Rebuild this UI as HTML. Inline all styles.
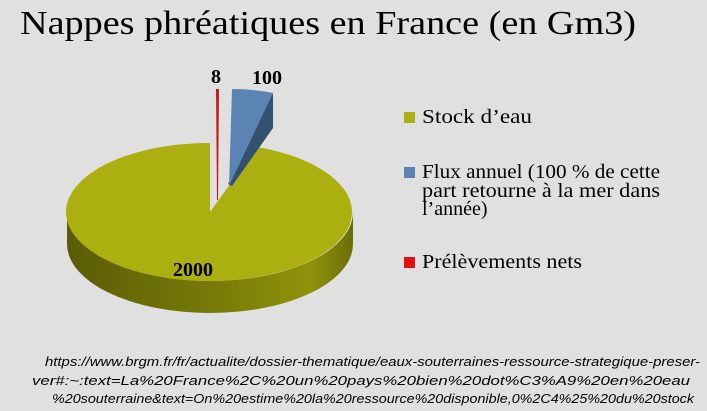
<!DOCTYPE html>
<html><head><meta charset="utf-8"><style>
body{margin:0;background:#e0e0e0;}
.w{position:relative;width:707px;height:411px;overflow:hidden;background:#e0e0e0;}
</style></head><body><div class="w">
<svg width="707" height="411" style="position:absolute;left:0;top:0">
<defs>
<linearGradient id="s" x1="0" x2="1" y1="0" y2="0">
<stop offset="0" stop-color="#5a5c06"/><stop offset="0.55" stop-color="#7a7d08"/><stop offset="0.85" stop-color="#8f930a"/><stop offset="1" stop-color="#6b6e07"/></linearGradient>
</defs>
<text x="20" y="34" font-family="Liberation Serif,serif" font-size="34" textLength="616" lengthAdjust="spacingAndGlyphs">Nappes phréatiques en France (en Gm3)</text>
<path d="M353,212 A143 69 0 0 1 67,212 L67,244 A143 69 0 0 0 353,244 Z" fill="url(#s)"/>
<path d="M210,212 L257,147 A143 69 0 1 1 210,143 Z" fill="#abaf0f"/>
<path d="M273,93 L273,128 L232,186 L228,184 Z" fill="#34506f"/>
<path d="M229,186 L232,89 Q254,89 273,93 Z" fill="#5b84b4"/>
<path d="M216,89 L219,89 L218,200 L217,200 Z" fill="#d01515"/>
<g font-family="Liberation Serif,serif" font-weight="bold" font-size="20" fill="#000">
<text x="211" y="83">8</text>
<text x="252" y="84">100</text>
<text x="173" y="276">2000</text>
</g>
<rect x="404" y="112" width="11" height="11" fill="#abaf0f"/>
<rect x="404" y="167" width="11" height="11" fill="#5b84b4"/>
<rect x="404" y="257" width="11" height="11" fill="#e01010"/>
<g font-family="Liberation Serif,serif" font-size="20" fill="#000">
<text x="422" y="123" textLength="110" lengthAdjust="spacingAndGlyphs">Stock d’eau</text>
<text x="422" y="178" textLength="238" lengthAdjust="spacingAndGlyphs">Flux annuel (100 % de cette</text>
<text x="422" y="197" textLength="238" lengthAdjust="spacingAndGlyphs">part retourne à la mer dans</text>
<text x="422" y="215">l’année)</text>
<text x="422" y="268" textLength="160" lengthAdjust="spacingAndGlyphs">Prélèvements nets</text>
</g>
<g font-family="Liberation Sans,sans-serif" font-style="italic" font-size="13" fill="#000">
<text x="45" y="366" textLength="655" lengthAdjust="spacingAndGlyphs">https://www.brgm.fr/fr/actualite/dossier-thematique/eaux-souterraines-ressource-strategique-preser-</text>
<text x="32" y="385" textLength="658" lengthAdjust="spacingAndGlyphs">ver#:~:text=La%20France%2C%20un%20pays%20bien%20dot%C3%A9%20en%20eau</text>
<text x="52" y="403" textLength="642" lengthAdjust="spacingAndGlyphs">%20souterraine&amp;text=On%20estime%20la%20ressource%20disponible,0%2C4%25%20du%20stock</text>
</g>
</svg>
</div></body></html>
